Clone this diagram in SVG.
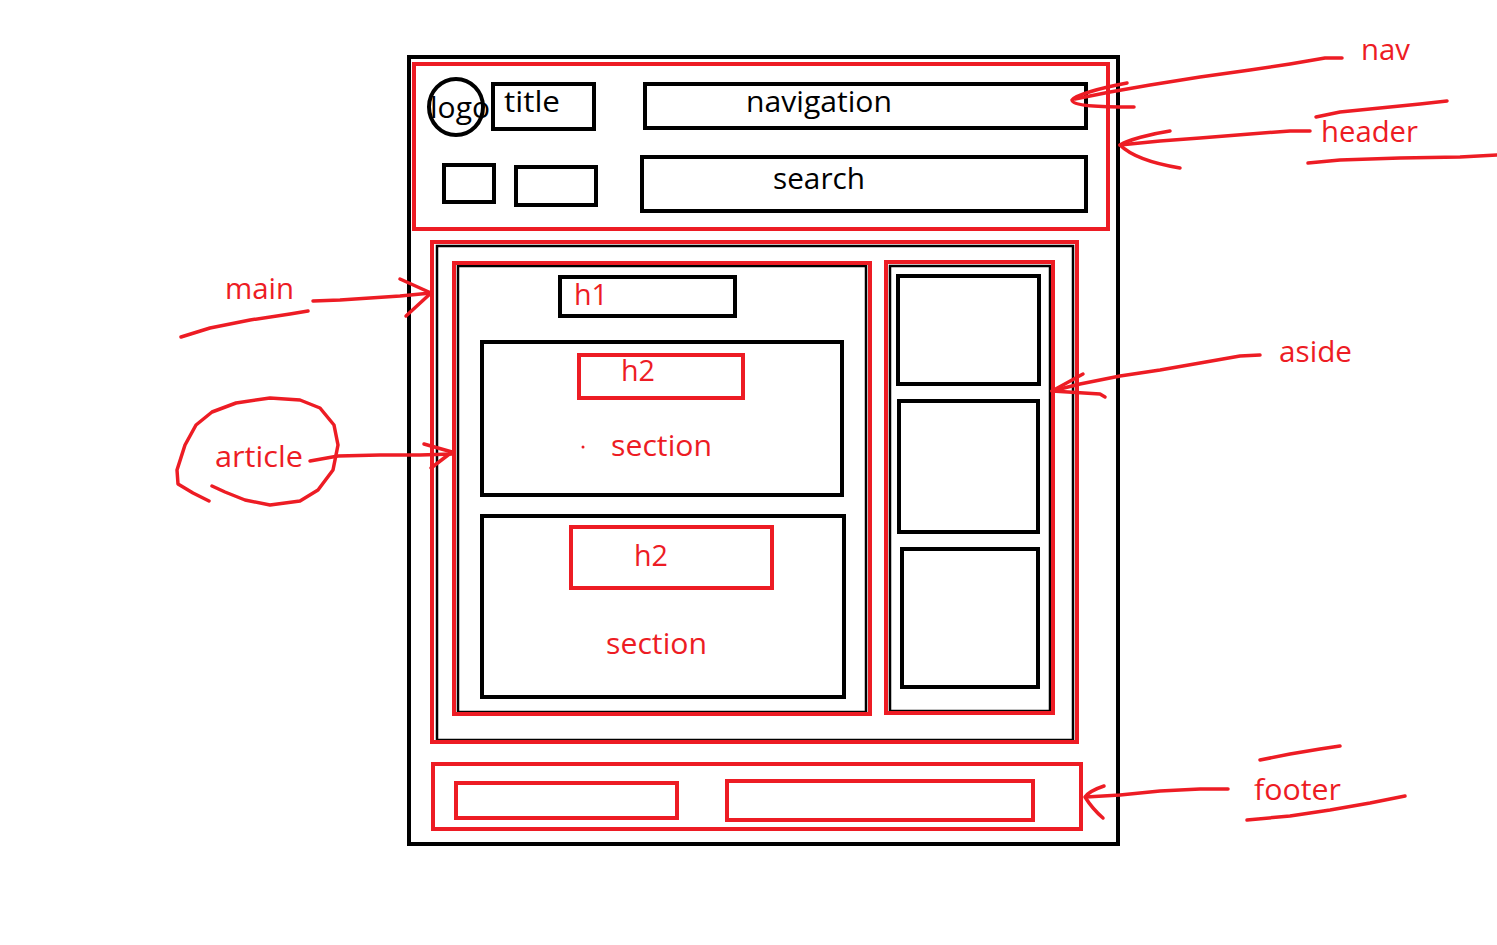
<svg xmlns="http://www.w3.org/2000/svg" width="1497" height="945" viewBox="0 0 1497 945">
  <style>
    .blk { fill: none; stroke: #000; stroke-width: 4; }
    .thin { fill: none; stroke: #000; stroke-width: 2.5; }
    .red { fill: none; stroke: #ed1c24; stroke-width: 4; }
    .ink { fill: none; stroke: #ed1c24; stroke-width: 3.5; stroke-linecap: round; stroke-linejoin: round; }
    .tb { font-family: "Open Sans", "Noto Sans", sans-serif; font-size: 29px; fill: #000; }
    .tr { font-family: "Open Sans", "Noto Sans", sans-serif; font-size: 29px; fill: #ed1c24; }
  </style>
  <rect width="1497" height="945" fill="#fff"/>

  <!-- page frame -->
  <g id="page">
    <rect class="blk" x="409" y="57" width="709" height="787"/>
  </g>

  <!-- header block -->
  <g id="header">
    <rect class="red" x="414" y="64" width="694" height="165"/>
    <ellipse class="blk" cx="456" cy="107" rx="27" ry="28"/>
    <text class="tb" x="430" y="118" textLength="60" lengthAdjust="spacingAndGlyphs">logo</text>
    <rect class="blk" x="493" y="84" width="101" height="45"/>
    <text class="tb" x="504" y="112" textLength="56" lengthAdjust="spacingAndGlyphs">title</text>
    <rect class="blk" x="645" y="84" width="441" height="44"/>
    <text class="tb" x="746" y="112" textLength="146" lengthAdjust="spacingAndGlyphs">navigation</text>
    <rect class="blk" x="444" y="165" width="50" height="37"/>
    <rect class="blk" x="516" y="167" width="80" height="38"/>
    <rect class="blk" x="642" y="157" width="444" height="54"/>
    <text class="tb" x="773" y="189" textLength="92" lengthAdjust="spacingAndGlyphs">search</text>
  </g>

  <!-- main block -->
  <g id="main">
    <rect class="thin" x="437" y="246" width="636" height="494"/>
    <rect class="red" x="432" y="242" width="645" height="500"/>
  </g>

  <!-- article block -->
  <g id="article">
    <rect class="thin" x="458" y="266" width="408" height="446"/>
    <rect class="red" x="454" y="263" width="416" height="451"/>
    <rect class="blk" x="560" y="277" width="175" height="39"/>
    <text class="tr" x="574" y="305" textLength="34" lengthAdjust="spacingAndGlyphs">h1</text>
  </g>

  <g id="section1">
    <rect class="blk" x="482" y="342" width="360" height="153"/>
    <rect class="red" x="579" y="355" width="164" height="43"/>
    <text class="tr" x="621" y="381" textLength="34" lengthAdjust="spacingAndGlyphs">h2</text>
    <circle cx="583" cy="447" r="1.5" fill="#ed1c24"/>
    <text class="tr" x="611" y="456" textLength="101" lengthAdjust="spacingAndGlyphs">section</text>
  </g>

  <g id="section2">
    <rect class="blk" x="482" y="516" width="362" height="181"/>
    <rect class="red" x="571" y="527" width="201" height="61"/>
    <text class="tr" x="634" y="566" textLength="34" lengthAdjust="spacingAndGlyphs">h2</text>
    <text class="tr" x="606" y="654" textLength="101" lengthAdjust="spacingAndGlyphs">section</text>
  </g>

  <!-- aside block -->
  <g id="aside">
    <rect class="thin" x="890" y="266" width="160" height="445"/>
    <rect class="red" x="886" y="262" width="167" height="451"/>
    <rect class="blk" x="898" y="276" width="141" height="108"/>
    <rect class="blk" x="899" y="401" width="139" height="131"/>
    <rect class="blk" x="902" y="549" width="136" height="138"/>
  </g>

  <!-- footer block -->
  <g id="footer">
    <rect class="red" x="433" y="764" width="648" height="65"/>
    <rect class="red" x="456" y="783" width="221" height="35"/>
    <rect class="red" x="727" y="781" width="306" height="39"/>
  </g>

  <!-- hand-drawn pointers -->
  <g id="connectors">
    <!-- nav -->
    <path class="ink" d="M1342,58 L1325,58 L1290,64 L1250,70 L1200,77 L1150,85 L1110,92 L1075,99"/>
    <path class="ink" d="M1127,83 C1100,88 1076,95 1072,100 C1072,106 1100,107 1134,107"/>
    <!-- header -->
    <path class="ink" d="M1310,131 L1290,131 L1250,134 L1200,138 L1160,141 L1120,145"/>
    <path class="ink" d="M1170,131 C1150,134 1128,140 1120,145 C1130,155 1150,163 1180,168"/>
    <path class="ink" d="M1316,117 L1340,112 L1380,108 L1420,104 L1447,101"/>
    <path class="ink" d="M1308,163 L1340,160 L1400,158 L1460,157 L1497,155"/>
    <!-- main -->
    <path class="ink" d="M181,337 L210,328 L250,320 L290,314 L308,311"/>
    <path class="ink" d="M313,301 L340,300 L370,298 L400,296 L431,293"/>
    <path class="ink" d="M400,279 L431,293 L406,316"/>
    <!-- article -->
    <path class="ink" d="M209,501 L193,493 L178,484 L177,470 L185,445 L196,425 L212,412 L236,403 L270,398 L300,400 L320,408 L334,425 L338,445 L333,470 L318,490 L300,501 L270,505 L245,500 L225,492 L212,486"/>
    <path class="ink" d="M310,461 L338,456 L380,455 L420,455 L452,454"/>
    <path class="ink" d="M424,444 L452,452 L431,468"/>
    <!-- aside -->
    <path class="ink" d="M1260,355 L1240,356 L1200,363 L1160,370 L1120,376 L1080,384 L1052,391"/>
    <path class="ink" d="M1083,374 L1052,391 L1100,394 L1105,397"/>
    <!-- footer -->
    <path class="ink" d="M1228,789 L1200,789 L1160,791 L1120,795 L1086,797"/>
    <path class="ink" d="M1104,786 C1095,789 1088,793 1085,797 C1090,805 1096,812 1103,818"/>
    <path class="ink" d="M1260,760 L1290,754 L1320,749 L1340,746"/>
    <path class="ink" d="M1247,820 L1290,816 L1330,810 L1370,803 L1405,796"/>
  </g>

  <!-- element labels -->
  <g id="labels">
    <text class="tr" x="1361" y="60" textLength="49" lengthAdjust="spacingAndGlyphs">nav</text>
    <text class="tr" x="1321" y="142" textLength="97" lengthAdjust="spacingAndGlyphs">header</text>
    <text class="tr" x="225" y="299" textLength="69" lengthAdjust="spacingAndGlyphs">main</text>
    <text class="tr" x="215" y="467" textLength="88" lengthAdjust="spacingAndGlyphs">article</text>
    <text class="tr" x="1279" y="362" textLength="73" lengthAdjust="spacingAndGlyphs">aside</text>
    <text class="tr" x="1254" y="800" textLength="87" lengthAdjust="spacingAndGlyphs">footer</text>
  </g>
</svg>
